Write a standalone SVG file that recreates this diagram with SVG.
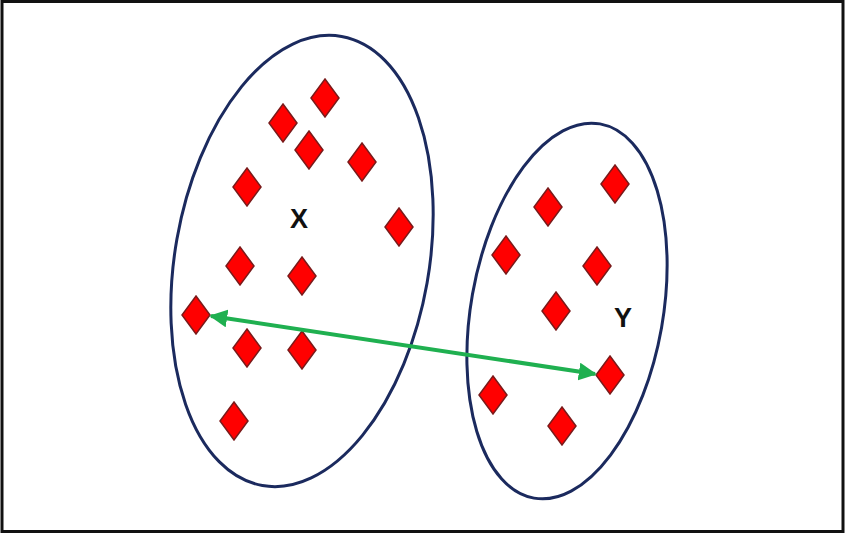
<svg xmlns="http://www.w3.org/2000/svg" width="845" height="538" viewBox="0 0 845 538">
<defs>
<style>
.cl{fill:none;stroke:#1b2a5e;stroke-width:3}
.pt{fill:#ff0000;stroke:#7a1a1a;stroke-width:1.5}
.lb{font-family:"Liberation Sans",Arial,sans-serif;font-weight:bold;font-size:27px;fill:#111}
.ar{stroke:#1fb050;stroke-width:4;fill:none}
</style>
<path id="d" d="M0,-19 L14,0 L0,19 L-14,0 Z"/>
<marker id="ah" viewBox="0 0 10 10" refX="9" refY="5" markerWidth="4.5" markerHeight="4.5" orient="auto-start-reverse" markerUnits="strokeWidth">
<path d="M0,0 L10,5 L0,10 Z" fill="#1fb050"/>
</marker>
</defs>
<rect x="0" y="0" width="845" height="538" fill="#fff"/>
<rect x="2" y="1.5" width="841" height="530" fill="none" stroke="#111" stroke-width="3"/>
<g id="clusterX">
<ellipse class="cl" cx="302" cy="261" rx="127" ry="228" transform="rotate(10 302 261)"/>
<text class="lb" x="299" y="228" text-anchor="middle">X</text>
</g>
<g id="clusterY">
<ellipse class="cl" cx="567" cy="311" rx="96" ry="190" transform="rotate(10 567 311)"/>
<text class="lb" x="623" y="327" text-anchor="middle">Y</text>
</g>
<g id="pointsX">
<use href="#d" class="pt" x="325" y="98"/>
<use href="#d" class="pt" x="283" y="123"/>
<use href="#d" class="pt" x="309" y="150"/>
<use href="#d" class="pt" x="362" y="162"/>
<use href="#d" class="pt" x="247" y="187"/>
<use href="#d" class="pt" x="399" y="227"/>
<use href="#d" class="pt" x="240" y="266"/>
<use href="#d" class="pt" x="302" y="276"/>
<use href="#d" class="pt" x="196" y="315"/>
<use href="#d" class="pt" x="247" y="348"/>
<use href="#d" class="pt" x="302" y="350"/>
<use href="#d" class="pt" x="234" y="421"/>
</g>
<g id="pointsY">
<use href="#d" class="pt" x="615" y="184"/>
<use href="#d" class="pt" x="548" y="207"/>
<use href="#d" class="pt" x="506" y="255"/>
<use href="#d" class="pt" x="597" y="266"/>
<use href="#d" class="pt" x="556" y="311"/>
<use href="#d" class="pt" x="610" y="375"/>
<use href="#d" class="pt" x="493" y="395"/>
<use href="#d" class="pt" x="562" y="426"/>
</g>
<g id="connectors">
<line class="ar" x1="211" y1="316" x2="595" y2="374" marker-start="url(#ah)" marker-end="url(#ah)"/>
</g>
</svg>
